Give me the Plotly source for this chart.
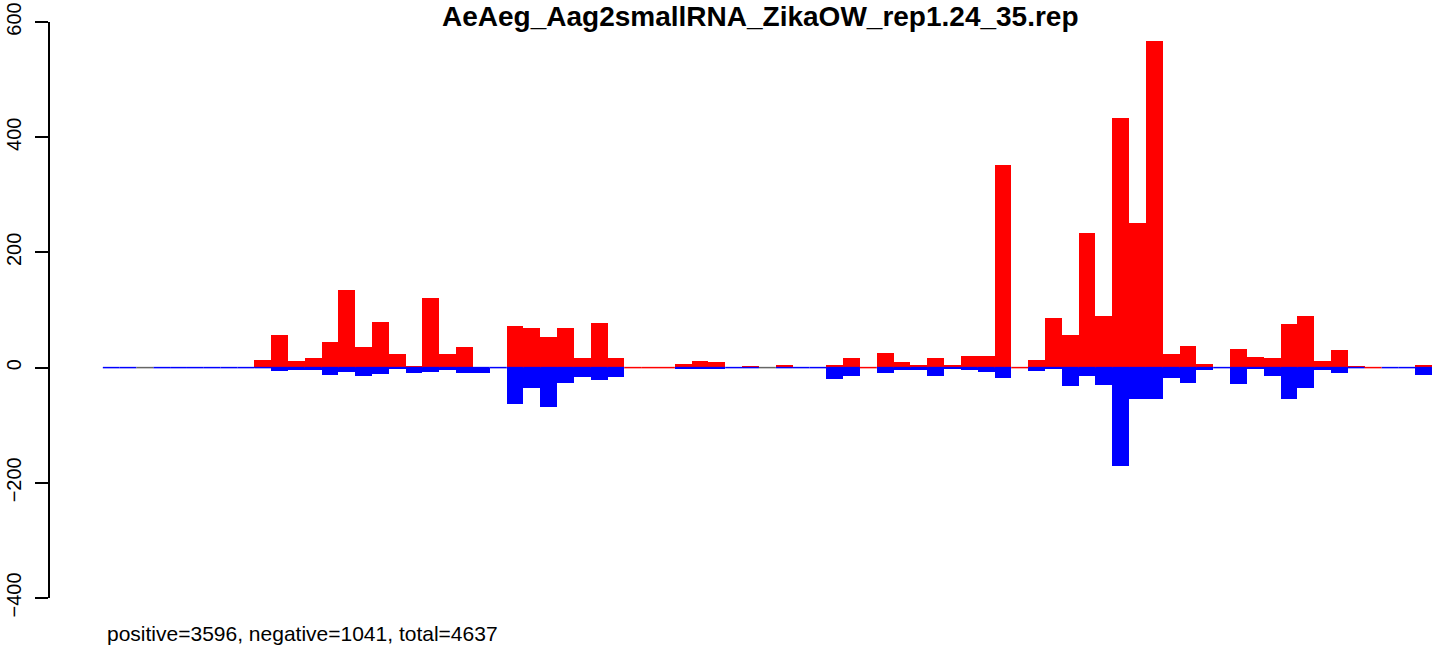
import plotly.graph_objects as go

# small RNA read counts per bin, 79 bins along the genome
bins = list(range(79))

positive = [0, 0, 0, 0, 0, 0, 0, 0, 0, 14,
            56, 11, 16, 44, 134, 35, 80, 23, 2, 120,
            23, 35, 0, 0, 73, 68, 54, 68, 16, 78,
            17, 0, 0, 0, 6, 11, 9, 0, 2, 0,
            4, 0, 0, 4, 16, 0, 25, 9, 4, 16,
            4, 20, 21, 351, 0, 13, 86, 56, 233, 89,
            433, 251, 567, 23, 37, 7, 0, 33, 19, 16,
            76, 90, 12, 31, 3, 0, 0, 0, 5]

negative = [0, 0, 0, 0, 0, 0, 0, 0, 0, 0,
            6, 4, 4, 13, 8, 15, 11, 2, 10, 8,
            4, 10, 9, 0, 64, 36, 69, 26, 16, 21,
            17, 0, 0, 0, 1, 3, 3, 0, 0, 0,
            0, 0, 0, 20, 15, 0, 10, 5, 5, 15,
            3, 5, 8, 18, 0, 6, 1, 32, 14, 30,
            171, 54, 54, 18, 27, 5, 0, 28, 3, 14,
            54, 36, 5, 9, 0, 0, 0, 0, 12]

# colour of the zero-height line drawn in each bin (b=blue, r=red, g=grey)
zero_line = ['b', 'b', 'g', 'b', 'b', 'b', 'b', 'b', 'b', 'b',
             'b', 'b', 'b', 'b', 'b', 'b', 'b', 'b', 'b', 'b',
             'b', 'b', 'b', 'b', 'b', 'b', 'b', 'b', 'b', 'b',
             'b', 'r', 'r', 'r', 'b', 'b', 'b', 'b', 'b', 'g',
             'b', 'b', 'b', 'b', 'b', 'r', 'b', 'b', 'b', 'b',
             'b', 'b', 'b', 'b', 'r', 'b', 'b', 'b', 'b', 'b',
             'b', 'b', 'b', 'b', 'b', 'b', 'b', 'b', 'b', 'b',
             'b', 'b', 'b', 'b', 'b', 'r', 'b', 'b', 'b']

title = 'AeAeg_Aag2smallRNA_ZikaOW_rep1.24_35.rep'
stats = 'positive=3596, negative=1041, total=4637'

colors = {'b': '#0000FF', 'r': '#FF0000', 'g': '#666666'}

fig = go.Figure()
fig.add_trace(go.Bar(x=bins, y=positive, width=1, marker_color='#FF0000',
                     marker_line_width=0))
fig.add_trace(go.Bar(x=bins, y=[-v for v in negative], width=1,
                     marker_color='#0000FF', marker_line_width=0))

# baseline segments, one trace per colour
for key, col in colors.items():
    xs, ys = [], []
    for b, c in zip(bins, zero_line):
        if c == key:
            xs += [b - 0.5, b + 0.5, None]
            ys += [0, 0, None]
    fig.add_trace(go.Scatter(x=xs, y=ys, mode='lines',
                             line=dict(color=col, width=1.5)))

fig.update_layout(
    width=1444, height=655,
    margin=dict(l=50, r=4, t=22, b=57, autoexpand=False),
    plot_bgcolor='white', paper_bgcolor='white',
    barmode='overlay', bargap=0, showlegend=False,
    font=dict(family='Liberation Sans, Arial, sans-serif', size=21, color='black'),
    title=dict(text='<b>' + title + '</b>', font=dict(size=28),
               x=0.511, xref='paper', xanchor='center',
               y=0.975, yref='container', yanchor='middle'),
)
fig.update_xaxes(visible=False, range=[-3.64, 78.98])
fig.update_yaxes(range=[-400, 600], tickvals=[-400, -200, 0, 200, 400, 600],
                 showgrid=False, zeroline=False, showline=True,
                 linecolor='black', linewidth=1.5, ticks='outside',
                 ticklen=13, tickwidth=1.5, tickcolor='black',
                 tickangle=-90, ticklabelstandoff=6, automargin=False,
                 ticklabeloverflow='allow', tickfont=dict(size=20))
fig.add_annotation(text=stats, xref='paper', yref='paper',
                   x=0.0398, y=-0.061, xanchor='left', yanchor='middle',
                   showarrow=False, font=dict(size=21))

# drop the default page margin so the figure sits at the window corner
fig.write_html('out.html', config={'displayModeBar': False},
               post_script="document.body.style.margin='0';")
